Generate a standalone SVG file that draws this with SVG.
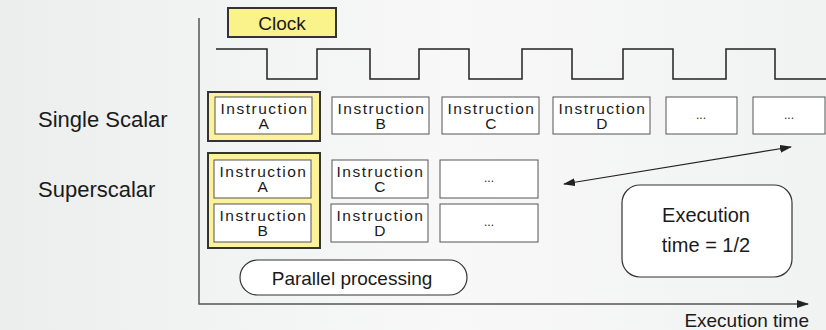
<svg xmlns="http://www.w3.org/2000/svg" width="826" height="330" viewBox="0 0 826 330">
<defs>
<linearGradient id="bg" x1="0" y1="0" x2="1" y2="0">
<stop offset="0" stop-color="#eceeee"/>
<stop offset="0.55" stop-color="#f8f8f8"/>
<stop offset="1" stop-color="#f1f2f2"/>
</linearGradient>
<marker id="ah" viewBox="0 0 12 8" refX="11" refY="4" markerWidth="12" markerHeight="8" markerUnits="userSpaceOnUse" orient="auto-start-reverse">
<path d="M0,0 L12,4 L0,8 z" fill="#222"/>
</marker>
</defs>
<style>
text{font-family:"Liberation Sans",Arial,sans-serif;fill:#1a1a1a}
.box{fill:#fff;stroke:#555;stroke-width:1}
.hl{fill:#fbf299;stroke:#333;stroke-width:2}
.ins{font-size:15.5px;letter-spacing:1.5px;text-anchor:middle}
.dots{font-size:12px;text-anchor:middle}
.lbl{font-size:22px}
.mid{text-anchor:middle}
.line{fill:none;stroke:#222;stroke-width:1.5}
.axis{fill:none;stroke:#555;stroke-width:1.5}
</style>
<rect x="0" y="0" width="826" height="330" fill="url(#bg)"/>

<g id="labels">
<text class="lbl" x="38" y="127">Single Scalar</text>
<text class="lbl" x="38" y="197">Superscalar</text>
</g>

<g id="clock">
<rect x="228" y="8" width="108" height="29" fill="#faf28a" stroke="#333" stroke-width="2"/>
<text class="mid" x="282" y="29.5" font-size="19">Clock</text>
</g>

<g id="waveform">
<path class="line" d="M216,49 H267 V79 H317 V49 H370 V79 H419 V49 H469 V79 H522 V49 H572 V79 H623 V49 H673 V79 H726 V49 H775 V79 H826"/>
</g>

<g id="connectors">
<path class="axis" d="M199,18 V304 H808" marker-end="url(#ah)"/>
<line x1="564" y1="184" x2="791" y2="147" stroke="#222" stroke-width="1.2" marker-start="url(#ah)" marker-end="url(#ah)"/>
</g>

<g id="single-A">
<rect class="hl" x="208" y="92" width="112" height="49"/>
<rect class="box" x="215" y="97" width="97" height="37"/>
<text class="ins" x="264.5" y="113.5">Instruction</text>
<text class="ins" x="264.5" y="129">A</text>
</g>
<g id="single-B">
<rect class="box" x="332" y="97" width="97" height="37"/>
<text class="ins" x="381.5" y="113.5">Instruction</text>
<text class="ins" x="381.5" y="129">B</text>
</g>
<g id="single-C">
<rect class="box" x="442" y="97" width="97" height="37"/>
<text class="ins" x="491.5" y="113.5">Instruction</text>
<text class="ins" x="491.5" y="129">C</text>
</g>
<g id="single-D">
<rect class="box" x="553" y="97" width="97" height="37"/>
<text class="ins" x="602.5" y="113.5">Instruction</text>
<text class="ins" x="602.5" y="129">D</text>
</g>
<g id="single-dots1">
<rect class="box" x="666" y="97" width="71" height="37"/>
<text class="dots" x="701" y="119">...</text>
</g>
<g id="single-dots2">
<rect class="box" x="753" y="97" width="72" height="37"/>
<text class="dots" x="789" y="119">...</text>
</g>

<g id="super-AB">
<rect class="hl" x="208" y="153" width="112" height="95"/>
<rect class="box" x="214" y="160" width="97" height="38"/>
<text class="ins" x="263.5" y="176.5">Instruction</text>
<text class="ins" x="263.5" y="192">A</text>
<rect class="box" x="214" y="204" width="97" height="38"/>
<text class="ins" x="263.5" y="220.5">Instruction</text>
<text class="ins" x="263.5" y="236">B</text>
</g>
<g id="super-C">
<rect class="box" x="332" y="160" width="96" height="38"/>
<text class="ins" x="380.5" y="176.5">Instruction</text>
<text class="ins" x="380.5" y="192">C</text>
</g>
<g id="super-D">
<rect class="box" x="331" y="204" width="97" height="38"/>
<text class="ins" x="380.5" y="220.5">Instruction</text>
<text class="ins" x="380.5" y="236">D</text>
</g>
<g id="super-dots1">
<rect class="box" x="440" y="160" width="98" height="38"/>
<text class="dots" x="489" y="182" font-size="14">...</text>
</g>
<g id="super-dots2">
<rect class="box" x="440" y="204" width="98" height="38"/>
<text class="dots" x="489" y="226" font-size="14">...</text>
</g>

<g id="parallel">
<rect x="240" y="260" width="227" height="35" rx="17.5" fill="#fff" stroke="#333" stroke-width="1.2"/>
<text class="mid" x="352" y="284.5" font-size="19">Parallel processing</text>
</g>

<g id="exec-box">
<rect x="622" y="185" width="170" height="92" rx="18" fill="#fff" stroke="#333" stroke-width="1.2"/>
<text class="mid" x="706" y="222" font-size="20">Execution</text>
<text class="mid" x="706" y="252" font-size="20">time = 1/2</text>
</g>

<g id="axis-label">
<text x="809" y="327" font-size="19" text-anchor="end">Execution time</text>
</g>
</svg>
